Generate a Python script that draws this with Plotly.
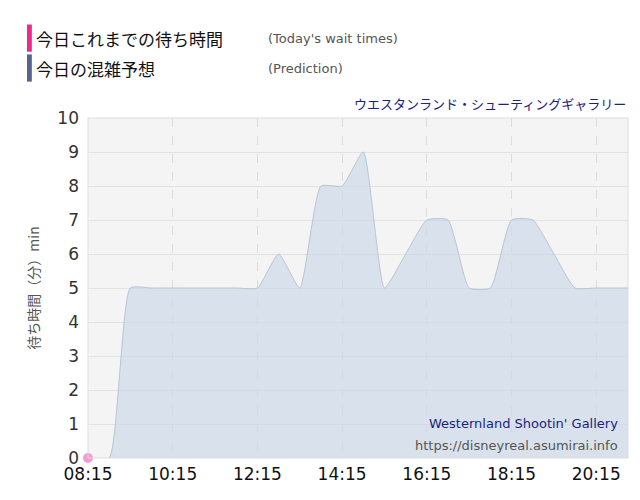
import plotly.graph_objects as go

pred_times = ["08:15","08:45","09:15","09:45","10:15","10:45","11:15","11:45","12:15","12:45","13:15","13:45","14:15","14:45","15:15","15:45","16:15","16:45","17:15","17:45","18:15","18:45","19:15","19:45","20:15","20:45","21:00"]
pred_vals = [0,0,5,5,5,5,5,5,5,6,5,8,8,9,5,6,7,7,5,5,7,7,6,5,5,5,5]
actual_times = ["08:15"]
actual_vals = [0]
tick_labels = ["08:15","10:15","12:15","14:15","16:15","18:15","20:15"]

def d(t):
    return "2024-01-01 " + t + ":00"

fig = go.Figure()
fig.add_trace(go.Scatter(x=[d(t) for t in pred_times], y=pred_vals, mode="lines",
    line=dict(shape="spline", smoothing=0.5, color="#b9c5d2", width=1),
    fill="tozeroy", fillcolor="rgba(205,218,232,0.7)", hoverinfo="skip"))
fig.add_trace(go.Scatter(x=[d(t) for t in actual_times], y=actual_vals, mode="markers",
    marker=dict(color="#f79ad3", size=10), cliponaxis=False))

fig.update_layout(
    width=640, height=500, showlegend=False,
    margin=dict(l=80, r=20, t=110, b=50),
    paper_bgcolor="white", plot_bgcolor="#f4f4f4",
    font=dict(family="DejaVu Sans", color="#333"),
    xaxis=dict(range=[d("08:15"), d("21:00")], tickvals=[d(t) for t in tick_labels],
        ticktext=tick_labels, tickfont=dict(size=17, color="#111"), ticklabelstandoff=4,
        showgrid=True, gridcolor="#dcdcdc", griddash="dash", zeroline=False, ticks=""),
    yaxis=dict(range=[0, 10], dtick=1, tickfont=dict(size=17, color="#333"), ticklabelstandoff=8,
        showgrid=True, gridcolor="#e2e2e2", zeroline=False,
        title=dict(text="待ち時間（分）min", font=dict(size=14, color="#555", family="Noto Sans CJK JP"), standoff=14)),
)
fig.add_shape(type="rect", xref="paper", yref="paper", x0=0, x1=1, y0=0, y1=1,
    line=dict(color="#dddddd", width=1))
# legend
fig.add_shape(type="rect", xref="paper", yref="paper", x0=-0.113, x1=-0.104, y0=1.195, y1=1.275,
    fillcolor="#f0288c", line=dict(width=0))
fig.add_shape(type="rect", xref="paper", yref="paper", x0=-0.113, x1=-0.104, y0=1.107, y1=1.187,
    fillcolor="#5a6490", line=dict(width=0))
fig.add_annotation(xref="paper", yref="paper", x=-0.1, y=1.235, xanchor="left", yanchor="middle",
    text="今日これまでの待ち時間", showarrow=False, font=dict(size=17, color="#111", family="Noto Sans CJK JP"))
fig.add_annotation(xref="paper", yref="paper", x=-0.1, y=1.147, xanchor="left", yanchor="middle",
    text="今日の混雑予想", showarrow=False, font=dict(size=17, color="#111", family="Noto Sans CJK JP"))
fig.add_annotation(xref="paper", yref="paper", x=0.33, y=1.235, xanchor="left", yanchor="middle",
    text="(Today's wait times)", showarrow=False, font=dict(size=13, color="#555"))
fig.add_annotation(xref="paper", yref="paper", x=0.33, y=1.147, xanchor="left", yanchor="middle",
    text="(Prediction)", showarrow=False, font=dict(size=13, color="#555"))
fig.add_annotation(xref="paper", yref="paper", x=1.0, y=1.01, xanchor="right", yanchor="bottom",
    text="ウエスタンランド・シューティングギャラリー", showarrow=False,
    font=dict(size=13, color="#1a237e", family="Noto Sans CJK JP"))
fig.add_annotation(xref="paper", yref="paper", x=0.985, y=0.075, xanchor="right", yanchor="bottom",
    text="Westernland Shootin' Gallery", showarrow=False, font=dict(size=13, color="#1a237e"))
fig.add_annotation(xref="paper", yref="paper", x=0.985, y=0.01, xanchor="right", yanchor="bottom",
    text="https://disneyreal.asumirai.info", showarrow=False, font=dict(size=13, color="#555"))
fig.write_html("out.html")
